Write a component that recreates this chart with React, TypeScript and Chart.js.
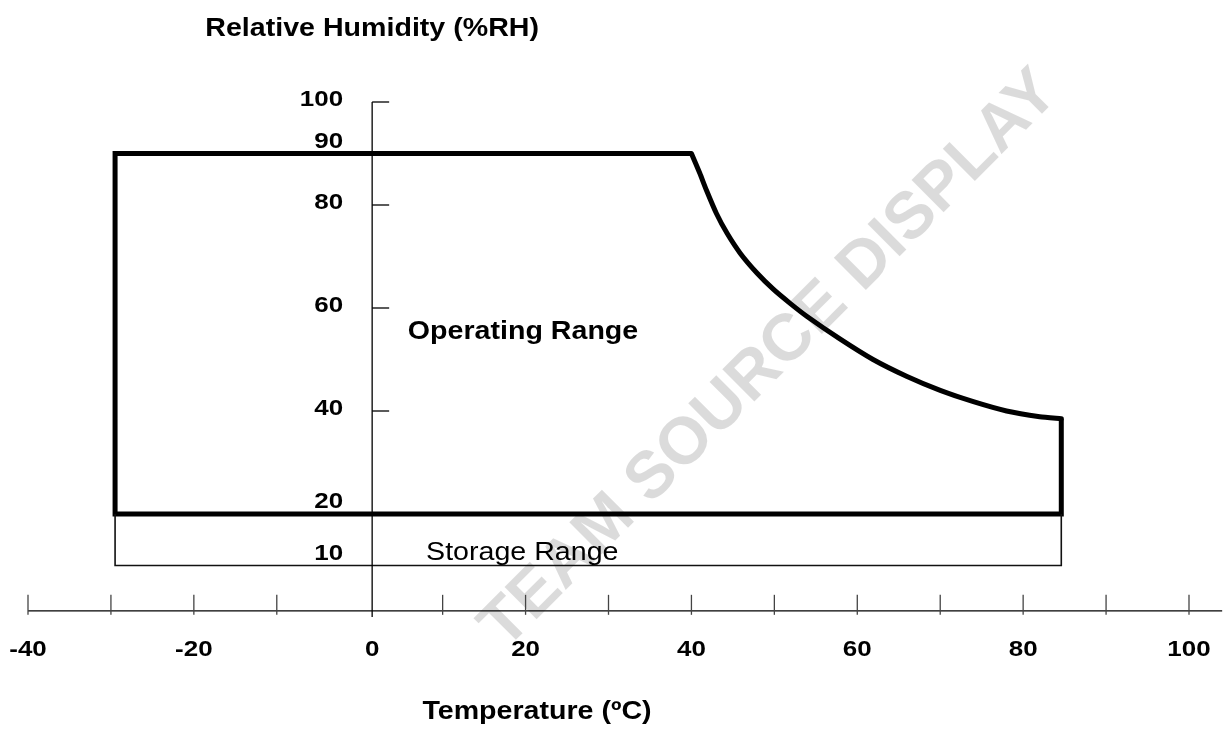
import React, { useEffect, useRef } from 'react';
import { Chart, registerables } from 'chart.js';

Chart.register(...registerables);

// ---- data ----
const xTickValues = [-40, -30, -20, -10, 10, 20, 30, 40, 50, 60, 70, 80, 90, 100];
const xLabelValues = [-40, -20, 0, 20, 40, 60, 80, 100];
const yTickValues = [100, 80, 60, 40];
const yLabelValues = [100, 90, 80, 60, 40, 20, 10];
const yLinedLabels = [90, 20, 10];

const operatingEdge = [
  { x: 84.6, y: 38.5 },
  { x: 84.6, y: 20 },
  { x: -29.5, y: 20 },
  { x: -29.5, y: 90 },
  { x: 40, y: 90 },
];
const operatingCurve = [
  { x: 40.0, y: 90.0 },
  { x: 41.0, y: 86.2 },
  { x: 41.8, y: 82.9 },
  { x: 43.0, y: 78.4 },
  { x: 44.3, y: 74.5 },
  { x: 45.9, y: 70.6 },
  { x: 47.9, y: 66.8 },
  { x: 49.9, y: 63.6 },
  { x: 51.9, y: 60.9 },
  { x: 53.9, y: 58.4 },
  { x: 57.9, y: 54.0 },
  { x: 61.9, y: 50.0 },
  { x: 66.0, y: 46.7 },
  { x: 70.0, y: 44.0 },
  { x: 74.0, y: 41.8 },
  { x: 78.0, y: 40.0 },
  { x: 82.0, y: 38.9 },
  { x: 84.6, y: 38.5 },
];
const storageEdge = [
  { x: -29.5, y: 20 },
  { x: -29.5, y: 10 },
  { x: 84.6, y: 10 },
  { x: 84.6, y: 20 },
];

const X_MIN = -40;
const X_MAX = 100;
const Y_MIN = 0;
const Y_MAX = 100;
const Y_AXIS_AT_X = 1.5;
const X_AXIS_AT_Y = 1.2;
const X_AXIS_END = 104;

const yTitle = 'Relative Humidity (%RH)';
const xTitle = 'Temperature (ºC)';
const operatingLabel = { text: 'Operating Range', x: 5.8, y: 55.3 };
const storageLabel = { text: 'Storage Range', x: 8.0, y: 12.4 };
const watermark = 'TEAM SOURCE DISPLAY';

const FONT = '"Liberation Sans", Arial, Helvetica, sans-serif';
const SX = 1.18;

function drawText(
  ctx: CanvasRenderingContext2D,
  text: string,
  x: number,
  y: number,
  font: string,
  align: CanvasTextAlign,
  baseline: CanvasTextBaseline,
  sx: number
) {
  ctx.save();
  ctx.translate(x, y);
  ctx.scale(sx, 1);
  ctx.font = font;
  ctx.fillStyle = '#000';
  ctx.textAlign = align;
  ctx.textBaseline = baseline;
  ctx.fillText(text, 0, 0);
  ctx.restore();
}

const watermarkPlugin = {
  id: 'watermark',
  beforeDatasetsDraw(chart: any) {
    const ctx = chart.ctx as CanvasRenderingContext2D;
    ctx.save();
    ctx.translate(770, 360);
    ctx.rotate(-Math.PI / 4);
    ctx.font = `bold 66px ${FONT}`;
    ctx.fillStyle = 'rgba(0,0,0,0.14)';
    ctx.textAlign = 'center';
    ctx.textBaseline = 'middle';
    ctx.fillText(watermark, 0, 0);
    ctx.restore();
  },
};

const axesPlugin = {
  id: 'customAxes',
  afterDatasetsDraw(chart: any) {
    const ctx = chart.ctx as CanvasRenderingContext2D;
    const xs = chart.scales.x;
    const ys = chart.scales.y;
    const axisY = ys.getPixelForValue(X_AXIS_AT_Y);
    const axisX = xs.getPixelForValue(Y_AXIS_AT_X);

    ctx.save();
    ctx.strokeStyle = '#000';
    ctx.lineWidth = 1.3;
    ctx.beginPath();
    ctx.moveTo(xs.getPixelForValue(X_MIN), axisY);
    ctx.lineTo(xs.getPixelForValue(X_AXIS_END), axisY);
    ctx.stroke();
    ctx.strokeStyle = '#444';
    xTickValues.forEach((v) => {
      const px = xs.getPixelForValue(v);
      ctx.beginPath();
      ctx.moveTo(px, axisY - 16);
      ctx.lineTo(px, axisY + 4);
      ctx.stroke();
    });
    ctx.strokeStyle = '#000';
    ctx.beginPath();
    ctx.moveTo(axisX, ys.getPixelForValue(Y_MAX));
    ctx.lineTo(axisX, ys.getPixelForValue(Y_MIN));
    ctx.stroke();
    yTickValues.forEach((v) => {
      const py = ys.getPixelForValue(v);
      ctx.beginPath();
      ctx.moveTo(axisX, py);
      ctx.lineTo(axisX + 17, py);
      ctx.stroke();
    });
    ctx.restore();

    const tickFont = `bold 22px ${FONT}`;
    xLabelValues.forEach((v) => {
      const px = v === 0 ? axisX : xs.getPixelForValue(v);
      drawText(ctx, String(v), px, axisY + 39, tickFont, 'center', 'middle', SX);
    });
    yLabelValues.forEach((v) => {
      const py = ys.getPixelForValue(v);
      if (yLinedLabels.includes(v)) {
        drawText(ctx, String(v), axisX - 29, py - 6, tickFont, 'right', 'alphabetic', SX);
      } else {
        drawText(ctx, String(v), axisX - 29, py - 2, tickFont, 'right', 'middle', SX);
      }
    });

    const titleFont = `bold 26px ${FONT}`;
    drawText(ctx, yTitle, axisX, 29, titleFont, 'center', 'middle', 1.1);
    drawText(ctx, xTitle, 537, 712, titleFont, 'center', 'middle', 1.1);
    drawText(
      ctx,
      operatingLabel.text,
      xs.getPixelForValue(operatingLabel.x),
      ys.getPixelForValue(operatingLabel.y),
      titleFont,
      'left',
      'middle',
      1.1
    );
    drawText(
      ctx,
      storageLabel.text,
      xs.getPixelForValue(storageLabel.x),
      ys.getPixelForValue(storageLabel.y),
      `26px ${FONT}`,
      'left',
      'middle',
      1.1
    );
  },
};

export default function App() {
  const canvasRef = useRef<HTMLCanvasElement | null>(null);

  useEffect(() => {
    document.body.style.margin = '0';
    const canvas = canvasRef.current;
    if (!canvas) return;
    const chart = new Chart(canvas, {
      type: 'scatter',
      data: {
        datasets: [
          {
            label: 'Storage Range',
            data: storageEdge,
            showLine: true,
            borderColor: '#111',
            borderWidth: 1.6,
            pointRadius: 0,
            fill: false,
            tension: 0,
          },
          {
            label: 'Operating Range',
            data: operatingEdge,
            showLine: true,
            borderColor: '#000',
            borderWidth: 5,
            borderJoinStyle: 'miter',
            pointRadius: 0,
            fill: false,
            tension: 0,
          },
          {
            label: 'Operating Curve',
            data: operatingCurve,
            showLine: true,
            borderColor: '#000',
            borderWidth: 5,
            borderCapStyle: 'round',
            borderJoinStyle: 'round',
            pointRadius: 0,
            fill: false,
            tension: 0.2,
          },
        ] as any,
      },
      options: {
        animation: false,
        responsive: true,
        maintainAspectRatio: false,
        layout: { padding: { left: 28, right: 41, top: 102, bottom: 118 } },
        plugins: {
          legend: { display: false },
          title: { display: false },
          tooltip: { enabled: false },
        },
        elements: { line: { clip: false } as any },
        scales: {
          x: { type: 'linear', min: X_MIN, max: X_MAX, display: false },
          y: { type: 'linear', min: Y_MIN, max: Y_MAX, display: false },
        },
      },
      plugins: [watermarkPlugin, axesPlugin],
    });
    return () => chart.destroy();
  }, []);

  return (
    <div style={{ position: 'fixed', left: 0, top: 0, width: 1230, height: 735, background: '#fff' }}>
      <canvas ref={canvasRef} />
    </div>
  );
}
